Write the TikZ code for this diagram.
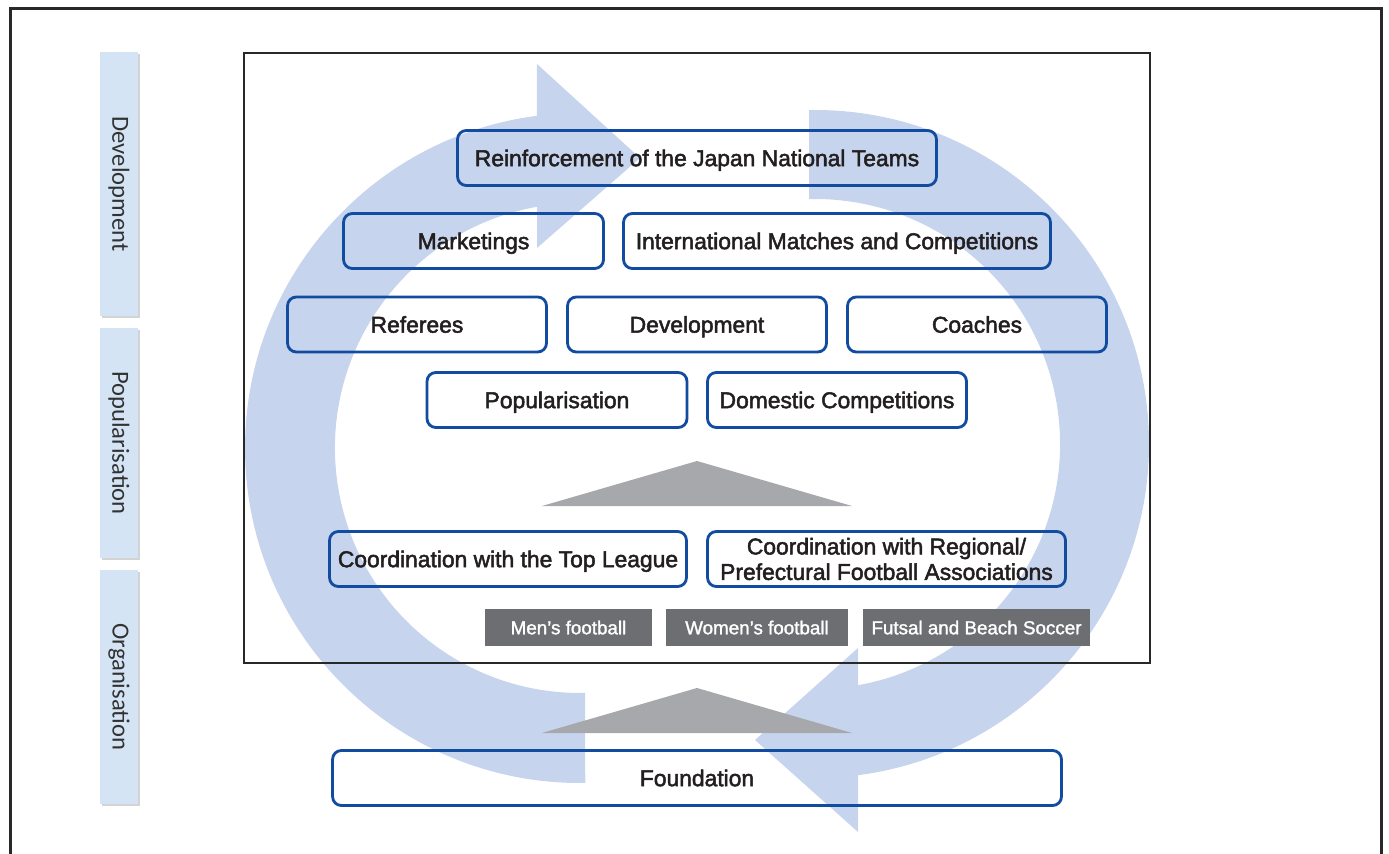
\documentclass[tikz,border=0pt]{standalone}
\usepackage{fontspec}
\setmainfont{Liberation Sans}
\newfontfamily\boxfont{Liberation Sans}[FakeBold=2.2]
\newfontfamily\tagfont{Liberation Sans}[FakeBold=1.5]
\newfontfamily\sidefont{Carlito}
\usetikzlibrary{shadows}
\definecolor{jfa_blue}{RGB}{17,76,160}
\definecolor{arc_blue}{RGB}{198,213,237}
\definecolor{side_blue}{RGB}{212,228,245}
\definecolor{wedge_gray}{RGB}{167,168,171}
\definecolor{tag_gray}{RGB}{109,110,113}
\definecolor{text_dark}{RGB}{35,31,32}
\definecolor{side_text}{RGB}{50,50,50}
\definecolor{frame_dark}{RGB}{40,40,40}
\tikzset{
    task_node/.style={
        draw=jfa_blue,
        line width=1.6pt,
        rounded corners=5pt,
        minimum height=1.1cm,
        inner sep=2pt,
        align=center,
        text=text_dark,
        font=\boxfont\fontsize{13}{14.5}\selectfont
    },
    task_line/.style={
        task_node,
        text height=11pt,
        text depth=1.7pt
    },
    tag_node/.style={
        fill=tag_gray,
        text=white,
        minimum height=0.74cm,
        inner sep=2pt,
        text height=9pt,
        text depth=1.3pt,
        font=\tagfont\fontsize{10.7}{12}\selectfont
    },
    side_node/.style={
        fill=side_blue,
        rotate=-90,
        minimum height=0.76cm,
        inner sep=0pt,
        text=side_text,
        font=\sidefont\fontsize{14}{15}\selectfont,
        drop shadow={shadow xshift=1.3pt, shadow yshift=-1.3pt, opacity=0.35}
    },
    cycle_arrow/.style={
        fill=arc_blue
    },
    wedge/.style={
        fill=wedge_gray
    }
}

\begin{document}
\begin{tikzpicture}[x=0.02cm, y=0.02cm]
\useasboundingbox (0,0) rectangle (1389,-854);

% Cycle arrows behind everything
\fill[cycle_arrow] (580,-448) ++(-89.1:335) arc[start angle=-89.1, end angle=-262.6, radius=335]
    -- (537,-64) -- (640,-158) -- (537,-248) -- (537,-206.8)
    arc[start angle=100.1, end angle=271.2, radius=245] -- cycle;
\fill[cycle_arrow] (815,-444) ++(91:334) arc[start angle=91, end angle=-82.6, radius=334]
    -- (858,-832) -- (755,-740) -- (858,-648) -- (858,-685.2)
    arc[start angle=-79.9, end angle=91.4, radius=245] -- cycle;

% Inner frame
\draw[frame_dark, line width=1pt] (244,-53) rectangle (1150,-663);

% Development level
\node[task_line, minimum width=9.58cm] (reinforce) at (697,-158) {Reinforcement of the Japan National Teams};
\node[task_line, minimum width=5.2cm] (marketing) at (473.5,-241) {Marketings};
\node[task_line, minimum width=8.54cm] (intl) at (837,-241) {International Matches and Competitions};

% Popularisation level
\node[task_line, minimum width=5.18cm] (referees) at (417,-324.5) {Referees};
\node[task_line, minimum width=5.18cm] (develop) at (697,-324.5) {Development};
\node[task_line, minimum width=5.18cm] (coaches) at (977,-324.5) {Coaches};
\node[task_line, minimum width=5.2cm] (popular) at (557,-400) {Popularisation};
\node[task_line, minimum width=5.18cm] (domestic) at (837,-400) {Domestic Competitions};

% Upward wedges
\fill[wedge] (697,-461) -- (852,-506) -- (542,-506) -- cycle;
\fill[wedge] (697,-688) -- (852,-733) -- (542,-733) -- cycle;

% Organisation level
\node[task_line, minimum width=7.14cm] (topleague) at (508,-559) {Coordination with the Top League};
\node[task_node, minimum width=7.16cm] (regional) at (886.5,-559) {Coordination with Regional/\\Prefectural Football Associations};
\node[tag_node, minimum width=3.34cm] (mens) at (568.5,-627.5) {Men’s football};
\node[tag_node, minimum width=3.64cm] (womens) at (757,-627.5) {Women’s football};
\node[tag_node, minimum width=4.54cm] (futsal) at (976.5,-627.5) {Futsal and Beach Soccer};

% Foundation
\node[task_line, minimum width=14.58cm] (foundation) at (697,-778) {Foundation};

% Side labels
\node[side_node, minimum width=5.28cm] (side_dev) at (119,-184) {Development};
\node[side_node, minimum width=4.6cm] (side_pop) at (119,-443) {Popularisation};
\node[side_node, minimum width=4.68cm] (side_org) at (119,-687) {Organisation};

% Outer frame (open at the bottom)
\draw[frame_dark, line width=1.7pt] (10.5,-854) -- (10.5,-9) -- (1381.5,-9) -- (1381.5,-854);

\end{tikzpicture}
\end{document}
